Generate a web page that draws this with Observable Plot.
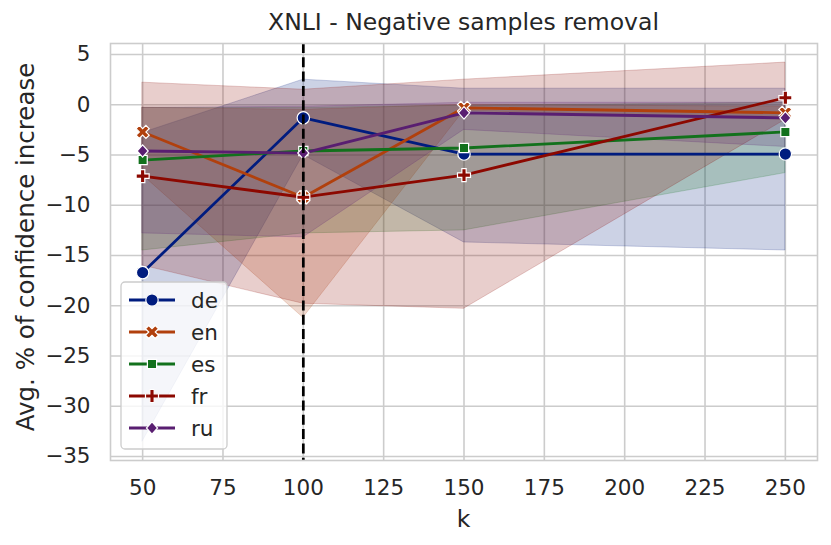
<!DOCTYPE html>
<html>
<head>
<meta charset="utf-8">
<script src="https://cdn.jsdelivr.net/npm/d3@7"></script>
<script src="https://cdn.jsdelivr.net/npm/@observablehq/plot@0.6"></script>
<style>
  html, body { margin: 0; padding: 0; background: white; }
</style>
</head>
<body>
<div id="chart"></div>
<script>
// ---- Data ----
const ks = [50, 100, 150, 250];
const langs = ["de", "en", "es", "fr", "ru"];
const colors = ["#001c7f", "#b1400d", "#12711c", "#8c0800", "#591e71"];

const deMean = [-16.7, -1.3, -4.9, -4.9];
const deLo   = [-33.5, -5.0, -13.7, -14.5];
const deHi   = [-2.8, 2.5, 1.6, 1.6];

const enMean = [-2.7, -9.2, -0.3, -0.8];
const enLo   = [-7.0, -21.2, -0.6, -1.5];
const enHi   = [-0.3, -0.5, 0.0, -0.2];

const esMean = [-5.5, -4.6, -4.3, -2.7];
const esLo   = [-14.5, -12.8, -12.5, -6.8];
const esHi   = [-0.3, -0.3, -0.1, 0.2];

const frMean = [-7.1, -9.2, -7.0, 0.7];
const frLo   = [-16.0, -19.8, -20.3, -1.5];
const frHi   = [2.2, 1.5, 2.5, 4.2];

const ruMean = [-4.6, -4.8, -0.8, -1.3];
const ruLo   = [-12.8, -13.2, -2.5, -4.2];
const ruHi   = [-0.3, -0.2, 0.2, 0.2];

const xTicks = [50, 75, 100, 125, 150, 175, 200, 225, 250];
const yTicks = [5, 0, -5, -10, -15, -20, -25, -30, -35];
const threshold = [100];

const titleText = "XNLI - Negative samples removal";
const xLabel = "k";
const yLabel = "Avg. % of confidence increase";

// ---- Marker symbols (matplotlib/seaborn style) ----
const symCircle = {draw(ctx, size) { const R = Math.sqrt(size / Math.PI); ctx.moveTo(R, 0); ctx.arc(0, 0, R, 0, 2 * Math.PI); ctx.closePath(); }};
function crossPts(R) {
  const r = R / 3;
  return [[-3*r,-r],[-r,-r],[-r,-3*r],[r,-3*r],[r,-r],[3*r,-r],[3*r,r],[r,r],[r,3*r],[-r,3*r],[-r,r],[-3*r,r]];
}
const symPlus = {draw(ctx, size) { const R = Math.sqrt(size / Math.PI) * 1.05; const p = crossPts(R); ctx.moveTo(p[0][0], p[0][1]); for (let i = 1; i < p.length; i++) ctx.lineTo(p[i][0], p[i][1]); ctx.closePath(); }};
const symX = {draw(ctx, size) { const R = Math.sqrt(size / Math.PI) * 1.12; const s = Math.SQRT1_2; const p = crossPts(R).map(([x, y]) => [(x - y) * s, (x + y) * s]); ctx.moveTo(p[0][0], p[0][1]); for (let i = 1; i < p.length; i++) ctx.lineTo(p[i][0], p[i][1]); ctx.closePath(); }};
const symSquare = {draw(ctx, size) { const h = Math.sqrt(size / Math.PI) * Math.SQRT1_2 * 1.05; ctx.moveTo(-h, -h); ctx.lineTo(h, -h); ctx.lineTo(h, h); ctx.lineTo(-h, h); ctx.closePath(); }};
const symDiamond = {draw(ctx, size) { const R = Math.sqrt(size / Math.PI) * 1.0; ctx.moveTo(0, -R); ctx.lineTo(R * 0.9, 0); ctx.lineTo(0, R); ctx.lineTo(-R * 0.9, 0); ctx.closePath(); }};
const symbols = [symCircle, symX, symSquare, symPlus, symDiamond];

const series = [
  {mean: deMean, lo: deLo, hi: deHi},
  {mean: enMean, lo: enLo, hi: enHi},
  {mean: esMean, lo: esLo, hi: esHi},
  {mean: frMean, lo: frLo, hi: frHi},
  {mean: ruMean, lo: ruLo, hi: ruHi}
].map((s, i) => ({
  lang: langs[i], color: colors[i], symbol: symbols[i],
  rows: ks.map((k, j) => ({k, mean: s.mean[j], lo: s.lo[j], hi: s.hi[j]}))
}));

const textColor = "#262626";
const gridColor = "#cccccc";
const R = 6.2;
const tickFont = 21.5;
const labelFont = 23.5;

const marks = [
  Plot.gridX(xTicks, {stroke: gridColor, strokeOpacity: 1, strokeWidth: 1.6}),
  Plot.gridY(yTicks, {stroke: gridColor, strokeOpacity: 1, strokeWidth: 1.6})
];
// bands (zorder 1 in matplotlib: all below lines)
for (const s of series) {
  marks.push(Plot.areaY(s.rows, {x: "k", y1: "lo", y2: "hi", fill: s.color, fillOpacity: 0.2, stroke: s.color, strokeOpacity: 0.2, strokeWidth: 1}));
}
// lines with markers
for (const s of series) {
  marks.push(Plot.line(s.rows, {x: "k", y: "mean", stroke: s.color, strokeWidth: 2.8}));
  marks.push(Plot.dot(s.rows, {x: "k", y: "mean", symbol: s.symbol, r: R, fill: s.color, stroke: "white", strokeWidth: 1.2}));
}
marks.push(Plot.ruleX(threshold, {stroke: "black", strokeWidth: 2.7, strokeDasharray: "10,4.3"}));
marks.push(Plot.frame({stroke: gridColor, strokeWidth: 1.6}));
marks.push(Plot.axisX(xTicks, {tickSize: 0, tickPadding: 19, fontSize: tickFont, fill: textColor, label: null}));
marks.push(Plot.axisY(yTicks, {tickSize: 0, tickPadding: 20, fontSize: tickFont, fill: textColor, label: null, tickFormat: d3.format("d")}));

const W = 831, H = 545;
const mL = 110, mR = 14, mT = 43, mB = 85;

const chart = Plot.plot({
  width: W, height: H,
  marginLeft: mL, marginRight: mR, marginTop: mT, marginBottom: mB,
  style: {fontFamily: "'DejaVu Sans', sans-serif", fontSize: "21px", color: textColor, background: "white"},
  x: {type: "linear", domain: [40, 260]},
  y: {type: "linear", domain: [-35.4, 6.1]},
  marks
});
document.getElementById("chart").appendChild(chart);

// ---- Title, axis labels, legend ----
const svg = d3.select(chart);
const font = "'DejaVu Sans', sans-serif";
svg.append("text").attr("x", (mL + W - mR) / 2).attr("y", 30).attr("text-anchor", "middle")
  .attr("font-family", font).attr("font-size", labelFont).attr("fill", textColor).text(titleText);
svg.append("text").attr("x", (mL + W - mR) / 2).attr("y", 527).attr("text-anchor", "middle")
  .attr("font-family", font).attr("font-size", labelFont).attr("fill", textColor).text(xLabel);
svg.append("text").attr("transform", `translate(34, 247) rotate(-90)`).attr("text-anchor", "middle")
  .attr("font-family", font).attr("font-size", 24.5).attr("fill", textColor).text(yLabel);

const lg = svg.append("g");
lg.append("rect").attr("x", 121).attr("y", 282).attr("width", 106).attr("height", 167).attr("rx", 4)
  .attr("fill", "white").attr("fill-opacity", 0.8).attr("stroke", gridColor).attr("stroke-width", 1.3);
series.forEach((s, i) => {
  const y = 300 + i * 32;
  lg.append("line").attr("x1", 129).attr("x2", 175).attr("y1", y).attr("y2", y).attr("stroke", s.color).attr("stroke-width", 2.8);
  lg.append("path").attr("transform", `translate(152, ${y})`)
    .attr("d", d3.symbol(s.symbol, Math.PI * R * R)())
    .attr("fill", s.color).attr("stroke", "white").attr("stroke-width", 1.2);
  lg.append("text").attr("x", 191).attr("y", y).attr("dy", "0.35em").attr("text-anchor", "start")
    .attr("font-family", font).attr("font-size", tickFont).attr("fill", textColor).text(s.lang);
});
</script>
</body>
</html>
